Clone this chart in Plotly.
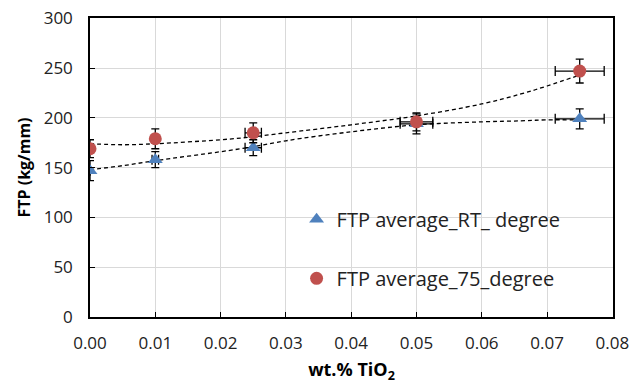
import plotly.graph_objects as go

# Data
x_vals = [0.0, 0.01, 0.025, 0.05, 0.075]
ftp_rt = [147, 158, 170, 194, 199]
ftp_rt_err = [10, 8, 8, 10, 10]
ftp_75 = [169, 179, 185, 196, 247]
ftp_75_err = [9, 10, 10, 9, 12]
x_err = [0.0, 0.0005, 0.00125, 0.0025, 0.00375]

# Trend lines
trend_x = [0.0, 0.005, 0.01, 0.02, 0.025, 0.03, 0.04, 0.05, 0.06, 0.066, 0.07, 0.075]
trend_rt = [148, 152, 157, 166, 171, 177, 186, 193, 196, 197, 198, 198]
trend_75 = [174, 173, 174, 178, 181, 185, 193, 202, 214, 224, 232, 243]

x_ticks = [0.0, 0.01, 0.02, 0.03, 0.04, 0.05, 0.06, 0.07, 0.08]
y_ticks = [0, 50, 100, 150, 200, 250, 300]

BLUE = "#4F81BD"
RED = "#C0504D"
FONT = "Open Sans"

fig = go.Figure()

fig.add_trace(go.Scatter(x=trend_x, y=trend_rt, mode="lines", line=dict(color="black", width=1.3, dash="4px,3px", shape="spline"),
                         showlegend=False, hoverinfo="skip"))
fig.add_trace(go.Scatter(x=trend_x, y=trend_75, mode="lines", line=dict(color="black", width=1.3, dash="4px,3px", shape="spline"),
                         showlegend=False, hoverinfo="skip"))

fig.add_trace(go.Scatter(
    x=x_vals, y=ftp_rt, mode="markers", name="FTP average_RT_ degree", legendgroup="a",
    marker=dict(symbol="triangle-up", size=13, color=BLUE),
    error_y=dict(type="data", array=ftp_rt_err, color="black", thickness=1.3, width=4),
    error_x=dict(type="data", array=x_err, color="black", thickness=1.3, width=5),
))
fig.add_trace(go.Scatter(
    x=x_vals, y=ftp_75, mode="markers", name="FTP average_75_degree", legendgroup="b",
    marker=dict(symbol="circle", size=13, color=RED),
    error_y=dict(type="data", array=ftp_75_err, color="black", thickness=1.3, width=4),
    error_x=dict(type="data", array=x_err, color="black", thickness=1.3, width=5),
))

axis_common = dict(showline=True, linecolor="black", linewidth=1.5, mirror=True,
                   showgrid=True, gridcolor="#D9D9D9", gridwidth=1,
                   ticks="inside", ticklen=5, tickcolor="black", zeroline=False,
                   automargin=False,
                   tickfont=dict(family=FONT, size=17, color="#222"))

fig.update_xaxes(range=[0, 0.0801], tickvals=x_ticks, ticktext=[f"{v:.2f}" for v in x_ticks],
                 title=dict(text="<b>wt.% TiO<sub>2</sub></b>", font=dict(family=FONT, size=18, color="black"), standoff=10),
                 ticklabelstandoff=10, **axis_common)
fig.update_yaxes(range=[0, 300.3], tickvals=y_ticks,
                 title=dict(text="<b>FTP (kg/mm)</b>", font=dict(family=FONT, size=16, color="black"), standoff=9),
                 ticklabelstandoff=12, **axis_common)

fig.update_layout(
    width=632, height=385,
    margin=dict(l=90, r=19, t=18, b=68),
    plot_bgcolor="white", paper_bgcolor="white",
    legend=dict(x=0.395, y=0.392, xanchor="left", yanchor="top", bgcolor="rgba(0,0,0,0)",
                font=dict(family=FONT, size=20, color="#222"), tracegroupgap=30),
    showlegend=True,
)

# Remove the default page margin so the figure starts at the window's top-left corner.
fig.write_html("out.html", config={"displayModeBar": False},
               post_script="document.body.style.margin='0';")
